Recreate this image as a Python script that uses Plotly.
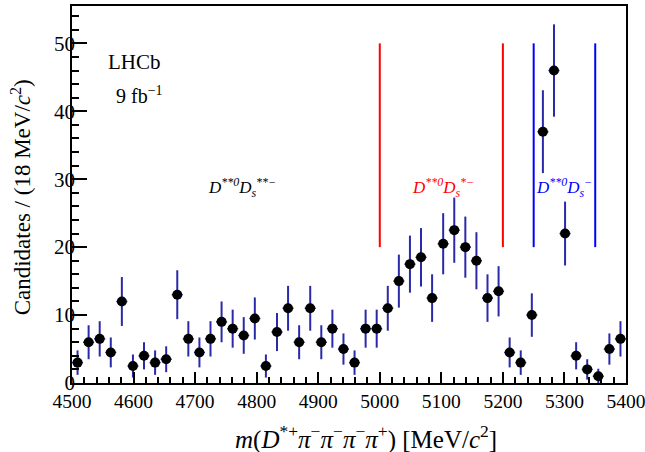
import plotly.graph_objects as go

# ---- data ----
bin_centers = [4509 + 18 * i for i in range(50)]
counts = [3, 6, 6.5, 4.5, 12, 2.5, 4, 3, 3.5, 13,
          6.5, 4.5, 6.5, 9, 8, 7, 9.5, 2.5, 7.5, 11,
          6, 11, 6, 8, 5, 3, 8, 8, 11, 15,
          17.5, 18.5, 12.5, 20.5, 22.5, 20, 18, 12.5, 13.5, 4.5,
          3, 10, 37, 46, 22, 4, 2, 1, 5, 6.5]
errors = [1.8, 2.5, 2.6, 2.2, 3.6, 1.7, 2.0, 1.8, 1.9, 3.6,
          2.6, 2.2, 2.6, 3.0, 2.8, 2.7, 3.1, 1.7, 2.8, 3.3,
          2.5, 3.3, 2.5, 2.8, 2.3, 1.8, 2.8, 2.8, 3.3, 3.9,
          4.2, 4.3, 3.5, 4.5, 4.8, 4.5, 4.2, 3.5, 3.7, 2.2,
          1.8, 3.2, 6.1, 6.8, 4.7, 2.0, 1.5, 1.1, 2.3, 2.6]
half_bin = 9

red_bounds = [5000, 5200]
blue_bounds = [5250, 5350]
line_low, line_high = 20, 50

x_tick_vals = [4500, 4600, 4700, 4800, 4900, 5000, 5100, 5200, 5300, 5400]
y_tick_vals = [0, 10, 20, 30, 40, 50]

region_labels = [
    ("<i>D</i><sup><i>**0</i></sup><i>D</i><sub><i>s</i></sub><sup><i>**−</i></sup>", 4776, 28.8, "black"),
    ("<i>D</i><sup><i>**0</i></sup><i>D</i><sub><i>s</i></sub><sup><i>*−</i></sup>", 5102, 28.8, "red"),
    ("<i>D</i><sup><i>**0</i></sup><i>D</i><sub><i>s</i></sub><sup><i>−</i></sup>", 5299, 28.8, "blue"),
]

FONT = "Liberation Serif"
ERR_COLOR = "#2a2aa8"

fig = go.Figure()
fig.add_trace(go.Scatter(
    x=bin_centers, y=counts, mode="markers",
    marker=dict(color="black", size=10),
    error_y=dict(type="data", array=errors, color=ERR_COLOR, thickness=2, width=0),
    error_x=dict(type="constant", value=half_bin, color=ERR_COLOR, thickness=1.5, width=0),
    showlegend=False,
))

shapes = []
for xb in red_bounds:
    shapes.append(dict(type="line", xref="x", yref="y", x0=xb, x1=xb, y0=line_low, y1=line_high,
                       line=dict(color="red", width=2)))
for xb in blue_bounds:
    shapes.append(dict(type="line", xref="x", yref="y", x0=xb, x1=xb, y0=line_low, y1=line_high,
                       line=dict(color="blue", width=2)))

annotations = []
for txt, xx, yy, col in region_labels:
    annotations.append(dict(text=txt, x=xx, y=yy, xref="x", yref="y", showarrow=False,
                            xanchor="center", yanchor="middle",
                            font=dict(family=FONT, size=17, color=col)))
annotations += [
    dict(text="LHCb", xref="paper", yref="paper", x=0.1135, y=0.851, showarrow=False,
         xanchor="center", yanchor="middle",
         font=dict(family=FONT, size=21, color="black")),
    dict(text="9 fb<sup>−1</sup>", xref="paper", yref="paper", x=0.1225, y=0.763, showarrow=False,
         xanchor="center", yanchor="middle",
         font=dict(family=FONT, size=20, color="black")),
    dict(text="<i>m</i>(<i>D</i><sup>*+</sup><i>π</i><sup>−</sup><i>π</i><sup>−</sup><i>π</i><sup>−</sup><i>π</i><sup>+</sup>) [MeV/<i>c</i><sup>2</sup>]",
         xref="paper", yref="paper", x=0.531, y=-0.145, xanchor="center", yanchor="middle",
         showarrow=False,
         font=dict(family=FONT, size=25, color="black")),
    dict(text="Candidates / (18 MeV/<i>c</i><sup>2</sup>)", xref="paper", yref="paper",
         x=-0.092, y=0.4925, textangle=-90, showarrow=False, xanchor="center", yanchor="middle",
         font=dict(family=FONT, size=23, color="black")),
]

axis_common = dict(showline=True, linecolor="black", linewidth=1.5, mirror=True,
                   showgrid=False, zeroline=False, ticks="inside", tickcolor="black",
                   ticklabeloverflow="allow", automargin=False)

fig.update_layout(
    width=645, height=452,
    margin=dict(l=72, r=19, t=6, b=69, autoexpand=False),
    plot_bgcolor="white", paper_bgcolor="white",
    xaxis=dict(range=[4500, 5400], tickvals=x_tick_vals, ticklen=11, tickwidth=1.5,
               ticklabelstandoff=0,
               tickfont=dict(family=FONT, size=19.5, color="black"),
               minor=dict(dtick=20, ticklen=6, ticks="inside", tickcolor="black"),
               **axis_common),
    yaxis=dict(range=[0, 55.5], tickvals=y_tick_vals, ticklen=15, tickwidth=1.5,
               ticklabelstandoff=-9,
               tickfont=dict(family=FONT, size=21, color="black"),
               minor=dict(dtick=2, ticklen=7, ticks="inside", tickcolor="black"),
               **axis_common),
    shapes=shapes, annotations=annotations,
)

fig.write_html("out.html")
